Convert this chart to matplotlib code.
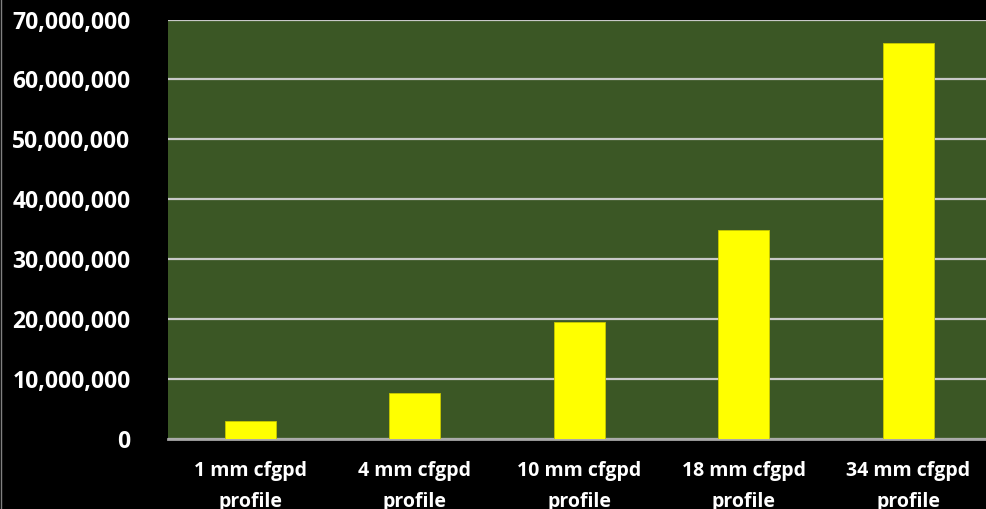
import matplotlib
matplotlib.use("Agg")
import matplotlib.pyplot as plt
from matplotlib.ticker import FuncFormatter, MultipleLocator

categories = ["1 mm cfgpd\nprofile", "4 mm cfgpd\nprofile", "10 mm cfgpd\nprofile",
              "18 mm cfgpd\nprofile", "34 mm cfgpd\nprofile"]
values = [3_000_000, 7_700_000, 19_500_000, 34_900_000, 66_100_000]

W, H = 986, 509
fig = plt.figure(figsize=(W / 100, H / 100), dpi=100, facecolor="black")
ax = fig.add_axes([168 / W, 1 - 439 / H, 822.5 / W, 419.5 / H])
ax.set_facecolor("#3B5725")

x = range(len(categories))
ax.bar(x, values, width=0.31, color="#FFFF00", edgecolor="#C8C800", linewidth=0.6, zorder=3)

ax.set_xlim(-0.5, 4.5)
ax.set_ylim(0, 70_000_000)
ax.yaxis.set_major_locator(MultipleLocator(10_000_000))
ax.yaxis.set_major_formatter(FuncFormatter(lambda v, p: f"{int(v):,}"))
ax.grid(axis="y", color="#C8C8C8", linewidth=1.6, zorder=1)
ax.set_xticks(list(x))
ax.set_xticklabels(categories, linespacing=1.75)

for s in ["top", "right", "left"]:
    ax.spines[s].set_visible(False)
ax.spines["bottom"].set_color("#A8A8A8")
ax.spines["bottom"].set_linewidth(2)

ax.tick_params(axis="both", length=0, colors="white")
ax.tick_params(axis="y", pad=27)
ax.tick_params(axis="x", pad=16)
for lab in ax.get_yticklabels():
    lab.set_fontfamily("Open Sans")
    lab.set_fontweight("bold")
    lab.set_fontsize(16.5)
for lab in ax.get_xticklabels():
    lab.set_fontfamily("Open Sans")
    lab.set_fontweight("bold")
    lab.set_fontsize(14)

fig.add_artist(plt.Line2D([0.5 / W, 0.5 / W], [0, 1], color="#808080", linewidth=1))

fig.savefig("out.png", dpi=100, facecolor="black")
